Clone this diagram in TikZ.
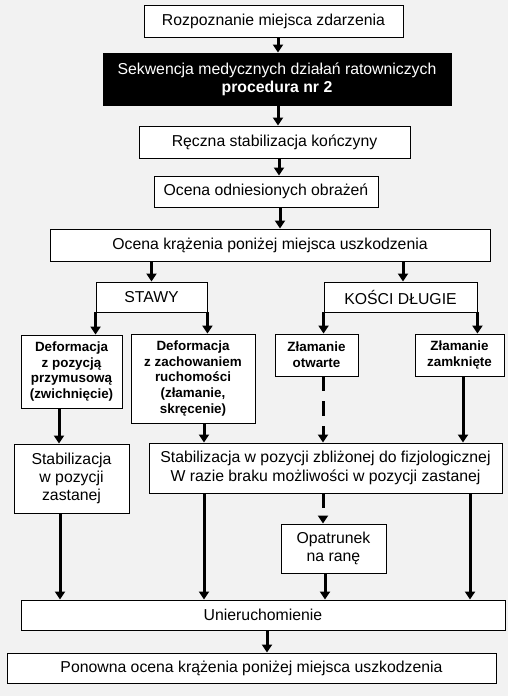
\documentclass[tikz,border=0pt]{standalone}
\usepackage{fontspec}
\setmainfont{Liberation Sans}
\usetikzlibrary{arrows.meta}
\definecolor{tlo}{RGB}{242,242,242}
\begin{document}
\begin{tikzpicture}[x=1pt,y=-1pt,
    blok/.style={draw,fill=white,line width=0.9pt,inner sep=0pt,align=center,
      font=\fontsize{15.8}{18.3}\selectfont},
    maly/.style={blok,font=\fontsize{13.4}{15.8}\selectfont\bfseries},
    strz/.style={line width=3pt,-{Triangle[width=10pt,length=8pt]}},
    przer/.style={strz,dash pattern=on 15pt off 10pt}]
  \fill[tlo] (0,0) rectangle (508,696);
  % bloki
  \node[blok,minimum width=259pt,minimum height=32pt] (rozp) at (273.5,21) {Rozpoznanie miejsca zdarzenia};
  \node[blok,fill=black,text=white,minimum width=348pt,minimum height=52pt] (sekw) at (277,79)
    {Sekwencja medycznych działań ratowniczych\\\textbf{procedura nr 2}};
  \node[blok,minimum width=271pt,minimum height=32pt] (reczna) at (274.5,142) {Ręczna stabilizacja kończyny};
  \node[blok,minimum width=224pt,minimum height=31pt] (obraz) at (266,191.5) {Ocena odniesionych obrażeń};
  \node[blok,minimum width=440pt,minimum height=32pt] (kraz) at (270,245) {Ocena krążenia poniżej miejsca uszkodzenia};
  \node[blok,minimum width=111pt,minimum height=30pt] (stawy) at (151.5,297) {STAWY};
  \node[blok,minimum width=153pt,minimum height=30pt] (kosci) at (400.5,297) {KOŚCI DŁUGIE};
  \node[maly,minimum width=101pt,minimum height=73pt] (przym) at (71.5,371.5)
    {Deformacja\\z pozycją\\przymusową\\(zwichnięcie)};
  \node[maly,minimum width=124pt,minimum height=89pt] (ruch) at (193,378.5)
    {Deformacja\\z zachowaniem\\ruchomości\\(złamanie,\\skręcenie)};
  \node[maly,minimum width=83pt,minimum height=42pt] (otw) at (316.5,355) {Złamanie\\otwarte};
  \node[maly,minimum width=89pt,minimum height=42pt] (zamk) at (459.5,355) {Złamanie\\zamknięte};
  \node[blok,minimum width=115pt,minimum height=69pt] (stabz) at (71.5,478.5) {Stabilizacja\\w pozycji\\zastanej};
  \node[blok,minimum width=353pt,minimum height=50pt] (stabf) at (325.5,468)
    {Stabilizacja w pozycji zbliżonej do fizjologicznej\\W razie braku możliwości w pozycji zastanej};
  \node[blok,minimum width=105pt,minimum height=49pt] (opatr) at (333.5,548.5) {Opatrunek\\na ranę};
  \node[blok,minimum width=484pt,minimum height=30pt] (unier) at (263,615) {Unieruchomienie};
  \node[blok,minimum width=489pt,minimum height=30pt] (ponow) at (251.5,668) {Ponowna ocena krążenia poniżej miejsca uszkodzenia};
  % strzalki
  \draw[strz] (rozp.south -| 278,0) -- (sekw.north -| 278,0);
  \draw[strz] (sekw.south -| 278,0) -- (reczna.north -| 278,0);
  \draw[strz] (reczna.south -| 279,0) -- (obraz.north -| 279,0);
  \draw[strz] (obraz.south -| 280,0) -- (kraz.north -| 280,0);
  \draw[strz] (kraz.south -| stawy.north) -- (stawy.north);
  \draw[strz] (kraz.south -| 403,0) -- (kosci.north -| 403,0);
  \draw[strz] (stawy.south west) -- (stawy.south west |- przym.north);
  \draw[strz] (stawy.south east) -- (stawy.south east |- ruch.north);
  \draw[strz] (kosci.south west) -- (kosci.south west |- otw.north);
  \draw[strz] (kosci.south east) -- (kosci.south east |- zamk.north);
  \draw[strz] (przym.south -| 59,0) -- (stabz.north -| 59,0);
  \draw[strz] (ruch.south -| 204,0) -- (stabf.north -| 204,0);
  \draw[przer] (otw.south -| 323,0) -- (stabf.north -| 323,0);
  \draw[strz] (zamk.south -| 463,0) -- (stabf.north -| 463,0);
  \draw[przer] (stabf.south -| 323,0) -- (opatr.north -| 323,0);
  \draw[strz] (stabz.south -| 60,0) -- (unier.north -| 60,0);
  \draw[strz] (stabf.south -| 204,0) -- (unier.north -| 204,0);
  \draw[strz] (opatr.south -| 325,0) -- (unier.north -| 325,0);
  \draw[strz] (stabf.south -| 470,0) -- (unier.north -| 470,0);
  \draw[strz] (unier.south -| 267,0) -- (ponow.north -| 267,0);
\end{tikzpicture}
\end{document}
